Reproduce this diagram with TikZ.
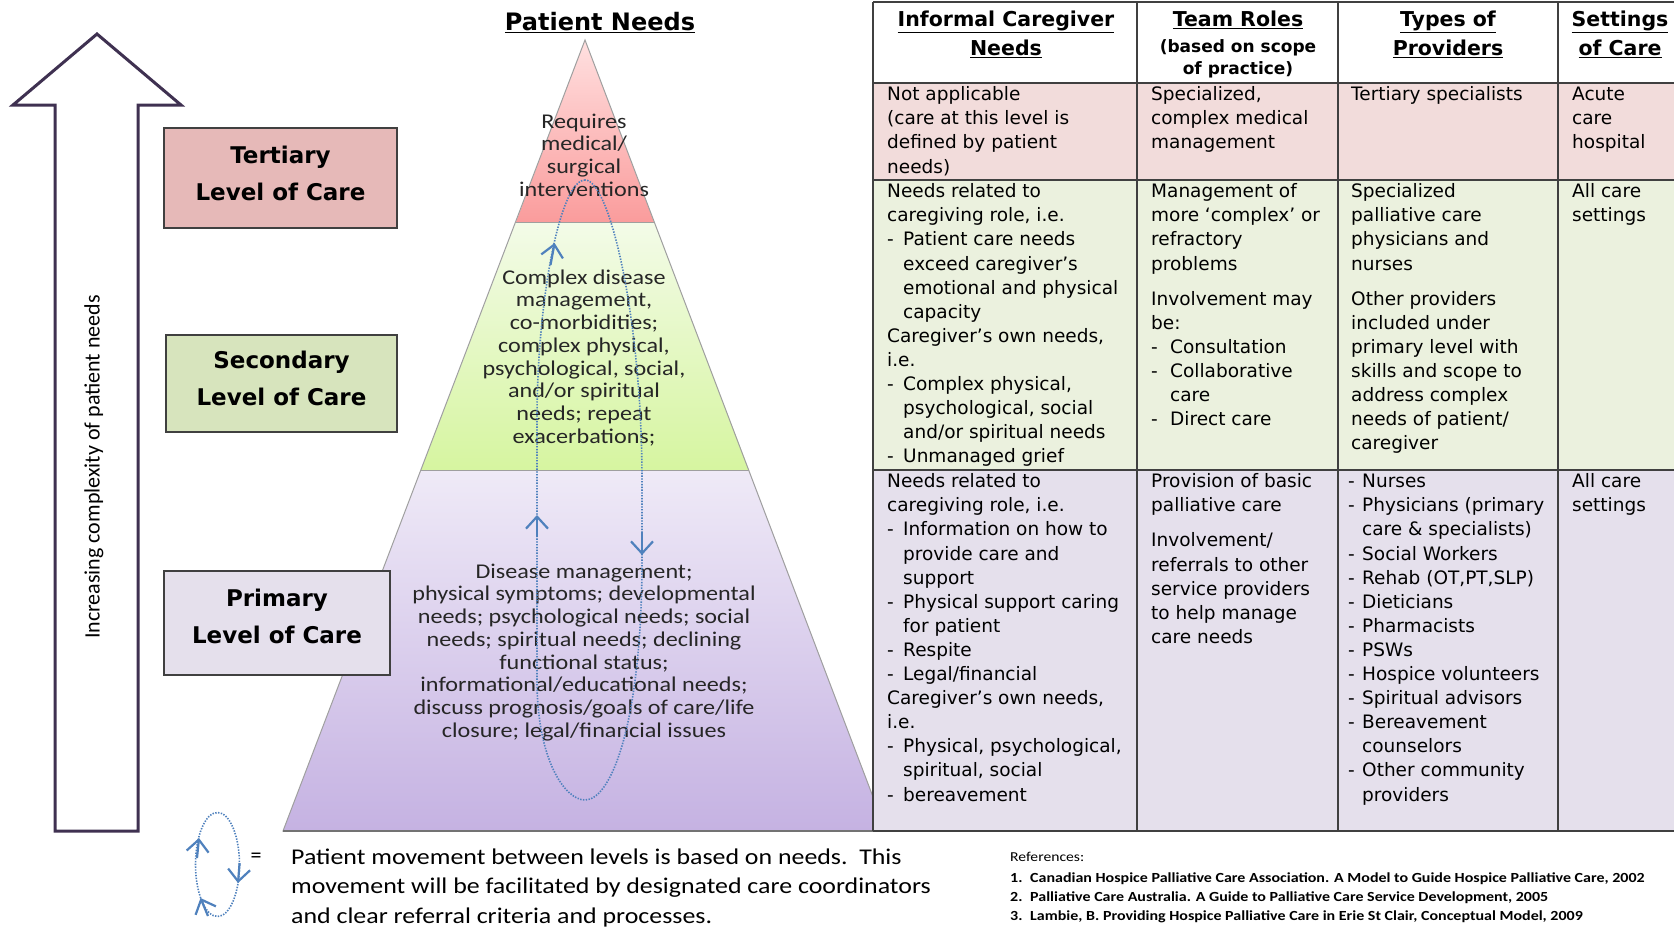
\documentclass[tikz,border=0pt]{standalone}
\usepackage{fontspec}
\setmainfont{DejaVu Sans}
\newfontfamily\calfont[FakeStretch=1.15]{Carlito}
\newfontfamily\calplain{Carlito}
\newfontfamily\hdfont{DejaVu Sans}
\usetikzlibrary{arrows.meta}
\definecolor{arrowpurple}{HTML}{3F3151}
\definecolor{terfill}{HTML}{E6B9B8}
\definecolor{secfill}{HTML}{D7E4BD}
\definecolor{prifill}{HTML}{E5E0EC}
\definecolor{terrow}{HTML}{F2DCDB}
\definecolor{secrow}{HTML}{EBF1DE}
\definecolor{prirow}{HTML}{E5E0EC}
\definecolor{loopblue}{HTML}{4F81BD}
\definecolor{gridgray}{HTML}{404040}
\definecolor{tertop}{HTML}{FFE0E0}
\definecolor{terbot}{HTML}{FA9C9C}
\definecolor{sectop}{HTML}{F3FBE8}
\definecolor{secbot}{HTML}{D6F5A0}
\definecolor{pritop}{HTML}{EFEAF7}
\definecolor{pribot}{HTML}{C5B2E2}
\newcommand{\dI}[1][16pt]{\makebox[#1][l]{-}}
\newcommand{\cI}[1][16pt]{\hspace*{#1}}
\newcommand{\fl}[1]{\rule{0pt}{#1}}
\begin{document}
\begin{tikzpicture}[x=1pt,y=-1pt,
  lvlbox/.style={draw=gridgray, line width=1.5pt, inner sep=0pt},
  lvltext/.style={inner sep=0pt, align=center, font=\hdfont\bfseries\fontsize{23}{37}\selectfont},
  celltext/.style={anchor=north west, inner sep=0pt, align=left, font=\fontsize{18.5}{24.1}\selectfont},
  hdtext/.style={anchor=north, inner sep=0pt, align=center, font=\hdfont\bfseries\fontsize{20.5}{29}\selectfont},
  subhd/.style={anchor=north, inner sep=0pt, align=center, font=\hdfont\bfseries\fontsize{17}{22}\selectfont},
  pyrtext/.style={anchor=north, inner sep=0pt, align=center, font=\calfont\fontsize{21}{22.7}\selectfont, text=black!85},
  pyrline/.style={draw=gray!75, line width=1pt},
  dotloop/.style={draw=loopblue, line width=1.6pt, dash pattern=on 1.4pt off 1.4pt},
  looparrow/.style={draw=loopblue, line width=2.2pt, -{Straight Barb[length=12pt,width=22pt]}},
  gridline/.style={draw=gridgray, line width=2pt}]
\useasboundingbox (0,0) rectangle (1674,929);
\fill[white] (0,0) rectangle (1674,929);

% big arrow
\draw[arrowpurple, line width=3pt, fill=white] (55,831) -- (55,105) -- (13,105) -- (97,34) -- (181,105) -- (138,105) -- (138,831) -- cycle;
\node[rotate=90, inner sep=0pt, font=\calplain\fontsize{22}{26}\selectfont] (vtext) at (94,467) {Increasing complexity of patient needs};

% pyramid
\shade[top color=tertop, bottom color=terbot] (585,40) -- (654,222) -- (516,222) -- cycle;
\shade[top color=sectop, bottom color=secbot] (516,222) -- (654,222) -- (749,470) -- (421,470) -- cycle;
\shade[top color=pritop, bottom color=pribot] (421,470) -- (749,470) -- (886,831) -- (283,831) -- cycle;
\draw[pyrline] (585,40) -- (886,831) -- (283,831) -- cycle;
\draw[pyrline] (516,222) -- (654,222);
\draw[pyrline] (421,470) -- (749,470);
\draw[draw=gray!90!black, line width=2pt] (283,831) -- (886,831);

\node[hdtext, font=\hdfont\bfseries\fontsize{24}{29}\selectfont] (title) at (600,8) {\fl{22pt}\underline{Patient Needs}};

\node[pyrtext] (ptter) at (584,111) {\fl{17pt}Requires\\medical/\\surgical\\interventions};
\node[pyrtext] (ptsec) at (584,267) {\fl{17pt}Complex disease\\management,\\co-morbidities;\\complex physical,\\psychological, social,\\and/or spiritual\\needs; repeat\\exacerbations;};
\node[pyrtext] (ptpri) at (584,561) {\fl{17pt}Disease management;\\physical symptoms; developmental\\needs; psychological needs; social\\needs; spiritual needs; declining\\functional status;\\informational/educational needs;\\discuss prognosis/goals of care/life\\closure; legal/financial issues};

% level boxes
\node[lvlbox, fill=terfill, minimum width=233pt, minimum height=100pt] (terbox) at (280.5,178) {};
\node[lvltext] (tertxt) at ([yshift=5pt]terbox.center) {Tertiary\\Level of Care};
\node[lvlbox, fill=secfill, minimum width=231pt, minimum height=97pt] (secbox) at (281.5,383.5) {};
\node[lvltext] (sectxt) at ([yshift=5pt]secbox.center) {Secondary\\Level of Care};
\node[lvlbox, fill=prifill, minimum width=226pt, minimum height=104pt] (pribox) at (277,623) {};
\node[lvltext] (pritxt) at ([yshift=7pt]pribox.center) {Primary\\Level of Care};

% table
\fill[white] (873,2) rectangle (1680,83);
\fill[terrow] (873,83) rectangle (1680,180);
\fill[secrow] (873,180) rectangle (1680,470);
\fill[prirow] (873,470) rectangle (1680,831);
\foreach \yy in {2,83,180,470,831} \draw[gridline] (873,\yy) -- (1680,\yy);
\foreach \xx in {873,1137,1338,1558} \draw[gridline] (\xx,2) -- (\xx,831);

\node[hdtext] (h1) at (1006,6) {\fl{20pt}\underline{Informal Caregiver}\\\underline{Needs}};
\node[hdtext] (h2) at (1238,6) {\fl{20pt}\underline{Team Roles}};
\node[subhd] (h2b) at (1238,36) {\fl{16pt}(based on scope\\of practice)};
\node[hdtext] (h3) at (1448,6) {\fl{20pt}\underline{Types of}\\\underline{Providers}};
\node[hdtext] (h4) at (1620,6) {\fl{20pt}\underline{Settings}\\\underline{of Care}};

% tertiary row
\node[celltext] (t1) at (887,82.5) {\fl{18pt}Not applicable\\(care at this level is\\defined by patient\\needs)};
\node[celltext] (t2) at (1151,82.5) {\fl{18pt}Specialized,\\complex medical\\management};
\node[celltext] (t3) at (1351,82.5) {\fl{18pt}Tertiary specialists};
\node[celltext] (t4) at (1572,82.5) {\fl{18pt}Acute\\care\\hospital};

% secondary row
\node[celltext] (s1) at (887,179.5) {\fl{18pt}Needs related to\\caregiving role, i.e.\\\dI Patient care needs\\\cI exceed caregiver’s\\\cI emotional and physical\\\cI capacity\\Caregiver’s own needs,\\i.e.\\\dI Complex physical,\\\cI psychological, social\\\cI and/or spiritual needs\\\dI Unmanaged grief};
\node[celltext] (s2) at (1151,179.5) {\fl{18pt}Management of\\more ‘complex’ or\\refractory\\problems\\[11pt]Involvement may\\be:\\\dI[19pt]Consultation\\\dI[19pt]Collaborative\\\cI[19pt]care\\\dI[19pt]Direct care};
\node[celltext] (s3) at (1351,179.5) {\fl{18pt}Specialized\\palliative care\\physicians and\\nurses\\[11pt]Other providers\\included under\\primary level with\\skills and scope to\\address complex\\needs of patient/\\caregiver};
\node[celltext] (s4) at (1572,179.5) {\fl{18pt}All care\\settings};

% primary row
\node[celltext] (p1) at (887,469.5) {\fl{18pt}Needs related to\\caregiving role, i.e.\\\dI Information on how to\\\cI provide care and\\\cI support\\\dI Physical support caring\\\cI for patient\\\dI Respite\\\dI Legal/financial\\Caregiver’s own needs,\\i.e.\\\dI Physical, psychological,\\\cI spiritual, social\\\dI bereavement};
\node[celltext] (p2) at (1151,469.5) {\fl{18pt}Provision of basic\\palliative care\\[11pt]Involvement/\\referrals to other\\service providers\\to help manage\\care needs};
\node[celltext] (p3) at (1348,469.5) {\fl{18pt}\dI[14pt]Nurses\\\dI[14pt]Physicians (primary\\\cI[14pt]care \& specialists)\\\dI[14pt]Social Workers\\\dI[14pt]Rehab (OT,PT,SLP)\\\dI[14pt]Dieticians\\\dI[14pt]Pharmacists\\\dI[14pt]PSWs\\\dI[14pt]Hospice volunteers\\\dI[14pt]Spiritual advisors\\\dI[14pt]Bereavement\\\cI[14pt]counselors\\\dI[14pt]Other community\\\cI[14pt]providers};
\node[celltext] (p4) at (1572,469.5) {\fl{18pt}All care\\settings};

% movement loop in pyramid
\coordinate (lt) at (585,180);
\coordinate (lb) at (585,800);
\draw[dotloop] (lt) .. controls (560,180) and (537,300) .. (537,420) -- (537,680) .. controls (537,760) and (565,800) .. (lb) .. controls (612,800) and (642,720) .. (642,560) -- (642,480) .. controls (642,320) and (610,180) .. (lt);
\coordinate (a1s) at (550.5,265);
\coordinate (a1e) at (554.6,243);
\coordinate (a2s) at (537,537);
\coordinate (a2e) at (537,515);
\coordinate (a3s) at (642,533);
\coordinate (a3e) at (642,555);
\draw[looparrow] (a1s) -- (a1e);
\draw[looparrow] (a2s) -- (a2e);
\draw[looparrow] (a3s) -- (a3e);

% legend
\coordinate (legc) at (217.5,864.5);
\draw[dotloop] (legc) ellipse [x radius=22, y radius=52];
\coordinate (b1s) at (197,858);
\coordinate (b1e) at (199,838);
\coordinate (b2s) at (239.6,863);
\coordinate (b2e) at (238,883);
\coordinate (b3s) at (208,916);
\coordinate (b3e) at (200.5,898);
\draw[looparrow] (b1s) -- (b1e);
\draw[looparrow] (b2s) -- (b2e);
\draw[looparrow] (b3s) -- (b3e);
\node[inner sep=0pt, font=\calplain\fontsize{22}{26}\selectfont] (eq) at (256,858) {=};
\node[anchor=north west, inner sep=0pt, align=left, font=\calfont\fontsize{22.5}{29.5}\selectfont] (legtext) at (291,844) {\fl{20pt}Patient movement between levels is based on needs.\ \ This\\movement will be facilitated by designated care coordinators\\and clear referral criteria and processes.};

% references
\node[anchor=base west, inner sep=0pt, font=\calfont\fontsize{13.6}{15}\selectfont] (refhead) at (1010,861) {References:};
\node[anchor=north west, inner sep=0pt, align=left, font=\calfont\bfseries\fontsize{13.9}{19}\selectfont] (reflist) at (1010,869) {\fl{13pt}\makebox[20pt][l]{1.}Canadian Hospice Palliative Care Association. A Model to Guide Hospice Palliative Care, 2002\\\makebox[20pt][l]{2.}Palliative Care Australia. A Guide to Palliative Care Service Development, 2005\\\makebox[20pt][l]{3.}Lambie, B. Providing Hospice Palliative Care in Erie St Clair, Conceptual Model, 2009};
\end{tikzpicture}
\end{document}
